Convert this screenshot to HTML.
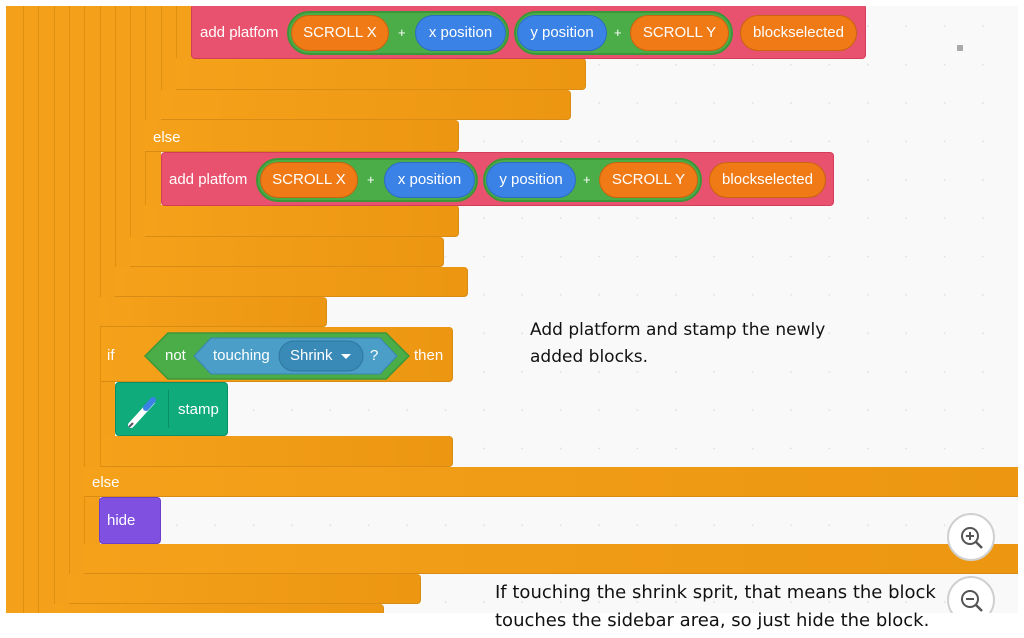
<!DOCTYPE html>
<html><head><meta charset="utf-8"><style>
body{margin:0;width:1024px;height:638px;background:#fff;position:relative;overflow:hidden;font-family:"Liberation Sans",sans-serif}
.canvas{position:absolute;left:6px;top:6px;width:1012px;height:607px;background-color:#f9f9f9;background-image:radial-gradient(circle,#e0e0e0 0.7px,transparent 1.1px);background-size:38.4px 38.4px;background-position:-2px 1px;overflow:hidden}
.o{position:absolute;background:#f4a01a}
.bar{position:absolute;background:linear-gradient(90deg,#f5a11a,#ec9612);border-bottom:1px solid #d88c14;border-right:1px solid #d88c14;border-radius:0 4px 4px 0;box-sizing:border-box}
.vl{position:absolute;width:1px;background:#e0900f}
.t{position:absolute;color:#fff;font-size:15px;white-space:nowrap;line-height:18px}
.red{position:absolute;background:#e9526e;border:1px solid #d43d5a;border-radius:4px;box-sizing:border-box}
.pill{position:absolute;border-radius:22px;box-sizing:border-box;color:#fff;font-size:15px;text-align:center;white-space:nowrap}
.or{background:#ef7a16;border:1px solid #c9640f}
.bl{background:#3a82e5;border:1px solid #2e6cc2}
.gr{background:#4aad48;border:2px solid #3c9738}
.note{position:absolute;font-family:"DejaVu Sans","Liberation Sans",sans-serif;color:#111;font-size:17px;white-space:nowrap}
.zb{position:absolute;width:48px;height:48px;border-radius:50%;background:#fff;border:2px solid #d0d0d0;box-sizing:border-box}
</style></head><body>
<div class="canvas">
<div style="position:absolute;left:-6px;top:-6px;width:1024px;height:638px">
<div class="o" style="left:6px;top:6px;width:94px;height:607px"></div>
<div class="o" style="left:100px;top:6px;width:15px;height:491px"></div>
<div class="o" style="left:115px;top:6px;width:15px;height:291px"></div>
<div class="o" style="left:130px;top:6px;width:15px;height:261px"></div>
<div class="o" style="left:145px;top:6px;width:16px;height:231px"></div>
<div class="o" style="left:161px;top:6px;width:15px;height:114px"></div>
<div class="o" style="left:176px;top:6px;width:16px;height:84px"></div>
<div class="vl" style="left:23px;top:6px;height:607px"></div>
<div class="vl" style="left:38px;top:6px;height:607px"></div>
<div class="vl" style="left:54px;top:6px;height:598px"></div>
<div class="vl" style="left:69px;top:6px;height:568px"></div>
<div class="vl" style="left:84px;top:6px;height:538px"></div>
<div class="vl" style="left:100px;top:6px;height:461px"></div>
<div class="vl" style="left:115px;top:6px;height:261px"></div>
<div class="vl" style="left:130px;top:6px;height:231px"></div>
<div class="vl" style="left:145px;top:6px;height:231px"></div>
<div class="vl" style="left:161px;top:6px;height:84px"></div>
<div class="vl" style="left:176px;top:6px;height:84px"></div>
<div class="bar" style="left:176px;top:58px;width:410px;height:32px"></div>
<div class="bar" style="left:161px;top:90px;width:410px;height:30px"></div>
<div class="bar" style="left:145px;top:120px;width:314px;height:32px"></div>
<div class="bar" style="left:145px;top:205px;width:314px;height:32px"></div>
<div class="bar" style="left:130px;top:237px;width:314px;height:30px"></div>
<div class="bar" style="left:115px;top:267px;width:353px;height:30px"></div>
<div class="bar" style="left:100px;top:297px;width:227px;height:30px"></div>
<div class="bar" style="left:100px;top:327px;width:353px;height:55px"></div>
<div class="bar" style="left:100px;top:436px;width:353px;height:31px"></div>
<div class="bar" style="left:84px;top:467px;width:940px;height:30px;border-radius:0"></div>
<div class="bar" style="left:84px;top:544px;width:940px;height:30px;border-radius:0"></div>
<div class="bar" style="left:69px;top:574px;width:352px;height:30px"></div>
<div class="bar" style="left:54px;top:604px;width:330px;height:12px"></div>
<div class="vl" style="left:100px;top:327px;height:140px"></div>
<div class="vl" style="left:84px;top:497px;height:47px"></div>
<div class="t" style="left:153px;top:129px">else</div>
<div class="t" style="left:92px;top:474px">else</div>

<div class="red" style="left:191px;top:4px;width:675px;height:55px"></div>
<div class="t" style="left:200px;top:24px">add platfom</div>
<div class="pill gr" style="left:287px;top:11px;width:222px;height:44px"></div>
<div class="pill or" style="left:291px;top:15px;width:98px;height:36px;line-height:34px">SCROLL X</div>
<div class="t" style="left:398px;top:24px;font-size:13px">+</div>
<div class="pill bl" style="left:415px;top:15px;width:91px;height:36px;line-height:34px">x position</div>
<div class="pill gr" style="left:514px;top:11px;width:219px;height:44px"></div>
<div class="pill bl" style="left:517px;top:15px;width:90px;height:36px;line-height:34px">y position</div>
<div class="t" style="left:614px;top:24px;font-size:13px">+</div>
<div class="pill or" style="left:630px;top:15px;width:99px;height:36px;line-height:34px">SCROLL Y</div>
<div class="pill or" style="left:740px;top:15px;width:117px;height:36px;line-height:34px">blockselected</div>

<div class="red" style="left:161px;top:152px;width:673px;height:54px"></div>
<div class="t" style="left:169px;top:171px">add platfom</div>
<div class="pill gr" style="left:256px;top:158px;width:222px;height:44px"></div>
<div class="pill or" style="left:260px;top:162px;width:98px;height:36px;line-height:34px">SCROLL X</div>
<div class="t" style="left:367px;top:171px;font-size:13px">+</div>
<div class="pill bl" style="left:384px;top:162px;width:91px;height:36px;line-height:34px">x position</div>
<div class="pill gr" style="left:483px;top:158px;width:219px;height:44px"></div>
<div class="pill bl" style="left:486px;top:162px;width:90px;height:36px;line-height:34px">y position</div>
<div class="t" style="left:583px;top:171px;font-size:13px">+</div>
<div class="pill or" style="left:599px;top:162px;width:99px;height:36px;line-height:34px">SCROLL Y</div>
<div class="pill or" style="left:709px;top:162px;width:117px;height:36px;line-height:34px">blockselected</div>

<div class="t" style="left:107px;top:347px">if</div>
<svg style="position:absolute;left:144px;top:332px" width="266" height="48">
<polygon points="1,24 24,1 242,1 265,24 242,47 24,47" fill="#4aad48" stroke="#3c9738" stroke-width="1.5"/>
<polygon points="50,24 67,6 236,6 253,24 236,42 67,42" fill="#4a9ec8" stroke="#3a86b0" stroke-width="1"/>
<rect x="135" y="9" width="84" height="30" rx="15" fill="#3a8ab8" stroke="#30769f"/>
<polygon points="197,22 207,22 202,27" fill="#fff"/>
</svg>
<div class="t" style="left:165px;top:347px">not</div>
<div class="t" style="left:213px;top:347px">touching</div>
<div class="t" style="left:290px;top:347px">Shrink</div>
<div class="t" style="left:370px;top:347px">?</div>
<div class="t" style="left:414px;top:347px">then</div>

<div style="position:absolute;left:115px;top:382px;width:113px;height:54px;background:#0fab7a;border:1px solid #0b8f66;border-radius:4px;box-sizing:border-box"></div>
<div style="position:absolute;left:168px;top:390px;width:1px;height:38px;background:#0b8f66"></div>
<svg style="position:absolute;left:126px;top:396px" width="34" height="34"><line x1="5" y1="29" x2="26" y2="6" stroke="#fff" stroke-width="6" stroke-linecap="round"/><line x1="20" y1="12" x2="27" y2="4" stroke="#3a82e5" stroke-width="6" stroke-linecap="round"/><line x1="3" y1="31" x2="7" y2="27" stroke="#556" stroke-width="2"/></svg>
<div class="t" style="left:178px;top:401px">stamp</div>

<div style="position:absolute;left:99px;top:497px;width:62px;height:47px;background:#8050e0;border:1px solid #6b3fc7;border-radius:4px;box-sizing:border-box"></div>
<div class="t" style="left:107px;top:512px">hide</div>

<div style="position:absolute;left:957px;top:45px;width:6px;height:6px;background:#aaa"></div>
<div class="zb" style="left:947px;top:513px"></div>
<div class="zb" style="left:947px;top:576px"></div>
<svg style="position:absolute;left:958px;top:524px" width="28" height="28"><circle cx="12" cy="12" r="8" fill="none" stroke="#555" stroke-width="2"/><line x1="18" y1="18" x2="24" y2="24" stroke="#555" stroke-width="2.5"/><line x1="8" y1="12" x2="16" y2="12" stroke="#555" stroke-width="2"/><line x1="12" y1="8" x2="12" y2="16" stroke="#555" stroke-width="2"/></svg>
<svg style="position:absolute;left:958px;top:587px" width="28" height="28"><circle cx="12" cy="12" r="8" fill="none" stroke="#555" stroke-width="2"/><line x1="18" y1="18" x2="24" y2="24" stroke="#555" stroke-width="2.5"/><line x1="8" y1="12" x2="16" y2="12" stroke="#555" stroke-width="2"/></svg>
</div>
</div>
<div class="note" style="left:530px;top:320px">Add platform and stamp the newly</div>
<div class="note" style="left:530px;top:347px">added blocks.</div>
<div class="note" style="left:495px;top:582px;font-size:18px">If touching the shrink sprit, that means the block</div>
<div class="note" style="left:495px;top:610px;font-size:18px">touches the sidebar area, so just hide the block.</div>
</body></html>
